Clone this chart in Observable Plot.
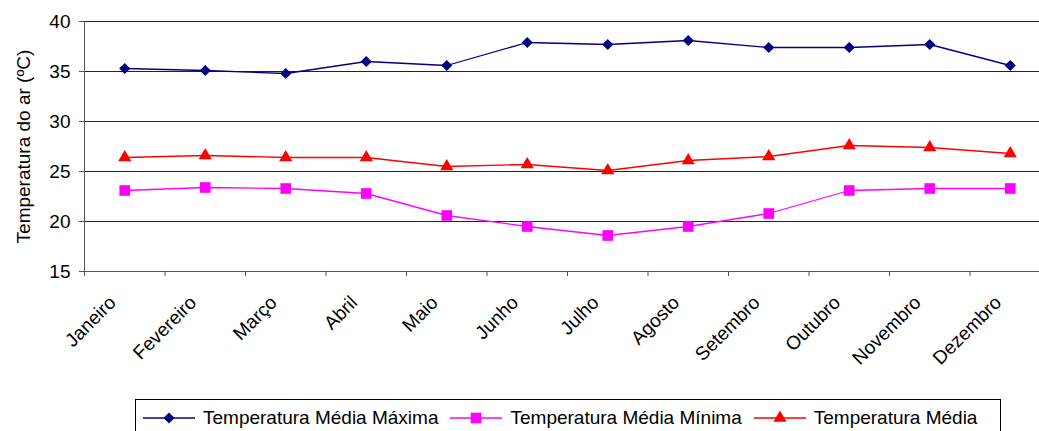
<!DOCTYPE html>
<html>
<head>
<meta charset="utf-8">
<script src="https://cdn.jsdelivr.net/npm/d3@7"></script>
<script src="https://cdn.jsdelivr.net/npm/@observablehq/plot@0.6"></script>
<style>
  body { margin: 0; background: #fff; font-family: "Liberation Sans", Arial, sans-serif; position: relative; width: 1039px; height: 431px; overflow: hidden; }
  #chart svg { display: block; }
  .legend { position: absolute; left: 135px; top: 399px; width: 866px; height: 40px; border: 1px solid #000; box-sizing: border-box; display: flex; align-items: flex-start; padding-top: 7px; padding-left: 7px; font-size: 19px; color: #000; white-space: nowrap; }
  .legend .item { display: flex; align-items: center; margin-right: 12px; }
  .legend svg { display: block; margin-right: 8px; }
</style>
</head>
<body>
<div id="chart"></div>
<div class="legend" id="legend"></div>
<script>
const months = ["Janeiro", "Fevereiro", "Março", "Abril", "Maio", "Junho", "Julho", "Agosto", "Setembro", "Outubro", "Novembro", "Dezembro"];
const maxTemp = [35.3, 35.1, 34.8, 36.0, 35.6, 37.9, 37.7, 38.1, 37.4, 37.4, 37.7, 35.6];
const minTemp = [23.1, 23.4, 23.3, 22.8, 20.6, 19.5, 18.6, 19.5, 20.8, 23.1, 23.3, 23.3];
const meanTemp = [26.4, 26.6, 26.4, 26.4, 25.5, 25.7, 25.1, 26.1, 26.5, 27.6, 27.4, 26.8];
const yTicks = [15, 20, 25, 30, 35, 40];
const seriesNames = ["Temperatura Média Máxima", "Temperatura Média Mínima", "Temperatura Média"];
const seriesColors = ["#000080", "#FF00FF", "#FF0000"];
const seriesSymbols = ["diamond2", "square", "triangle"];
const seriesR = [5.0, 6.0, 4.9];

const series = [maxTemp, minTemp, meanTemp].map((vals, s) =>
  vals.map((v, i) => ({month: months[i], idx: i + 0.5, value: v, series: seriesNames[s]}))
);

const marks = [
  Plot.ruleY(yTicks.slice(1), {stroke: "#222", strokeWidth: 1.1}),
  Plot.ruleX([0], {y1: 15, y2: 40, stroke: "#555"}),
  Plot.ruleY([15], {stroke: "#555"}),
  Plot.axisY({ticks: yTicks, tickSize: 5, tickPadding: 9, stroke: "#555", label: null}),
  Plot.axisX({ticks: d3.range(13), tickSize: 5, tickFormat: () => "", stroke: "#555", label: null}),
  Plot.axisX({ticks: months.map((_, i) => i + 0.5), tickSize: 0, tickPadding: 10, tickRotate: -45, dx: -12, dy: 18, tickFormat: d => months[Math.floor(d)], label: null}),
  Plot.text(["Temperatura do ar (ºC)"], {frameAnchor: "left", dx: -61, rotate: -90, textAnchor: "middle", fill: "#000"})
];
series.forEach((rows, s) => {
  marks.push(Plot.line(rows, {x: "idx", y: "value", stroke: seriesColors[s], strokeWidth: 1.3}));
  marks.push(Plot.dot(rows, {x: "idx", y: "value", symbol: () => seriesSymbols[s], fill: seriesColors[s], r: seriesR[s], stroke: "none"}));
});

const chart = Plot.plot({
  width: 1039,
  height: 399,
  marginLeft: 84,
  marginRight: -11,
  marginTop: 21,
  marginBottom: 128,
  style: {fontFamily: "'Liberation Sans', Arial, sans-serif", fontSize: "19px", color: "#000", background: "#fff", overflow: "visible"},
  x: {type: "linear", domain: [0, 12], axis: null},
  y: {domain: [15, 40], axis: null},
  symbol: {type: "identity"},
  marks
});
document.getElementById("chart").appendChild(chart);

// Legend
const legend = document.getElementById("legend");
seriesNames.forEach((name, s) => {
  const item = document.createElement("div");
  item.className = "item";
  const sw = d3.create("svg").attr("width", 52).attr("height", 20);
  sw.append("line").attr("x1", 0).attr("x2", 52).attr("y1", 10).attr("y2", 10).attr("stroke", seriesColors[s]).attr("stroke-width", 1.3);
  sw.append("path").attr("transform", "translate(26,10)").attr("fill", seriesColors[s])
    .attr("d", d3.symbol({diamond2: d3.symbolDiamond2, square: d3.symbolSquare, triangle: d3.symbolTriangle}[seriesSymbols[s]], Math.PI * seriesR[s] * seriesR[s])());
  item.appendChild(sw.node());
  const t = document.createElement("span");
  t.textContent = name;
  item.appendChild(t);
  legend.appendChild(item);
});
</script>
</body>
</html>
